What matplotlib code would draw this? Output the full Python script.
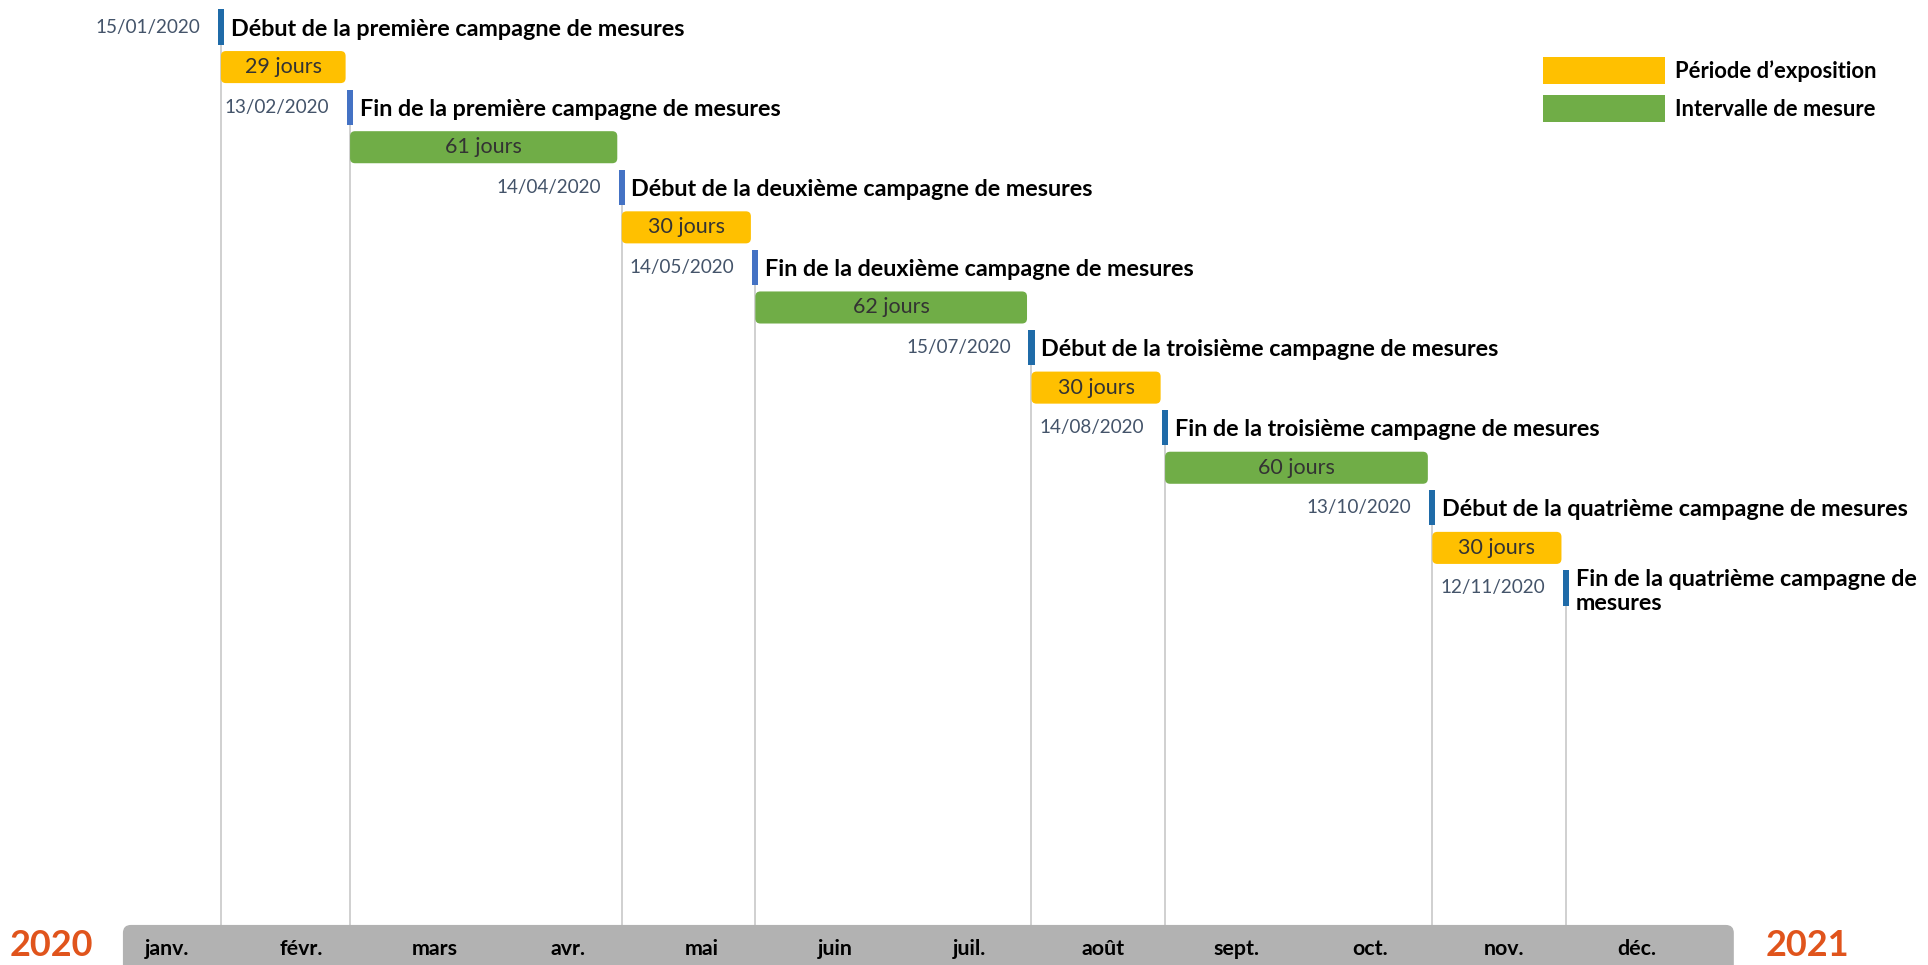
import datetime as dt
import matplotlib
matplotlib.use("Agg")
import matplotlib.pyplot as plt
import matplotlib.dates as mdates
from matplotlib.patches import Patch, FancyBboxPatch

plt.rcParams['font.family'] = ['Lato', 'DejaVu Sans']

# jalons des campagnes de mesures
event_dates = ["2020-01-15", "2020-02-13", "2020-04-14", "2020-05-14",
               "2020-07-15", "2020-08-14", "2020-10-13", "2020-11-12"]
event_labels = ["Début de la première campagne de mesures",
                "Fin de la première campagne de mesures",
                "Début de la deuxième campagne de mesures",
                "Fin de la deuxième campagne de mesures",
                "Début de la troisième campagne de mesures",
                "Fin de la troisième campagne de mesures",
                "Début de la quatrième campagne de mesures",
                "Fin de la quatrième campagne de\nmesures"]
date_labels = ["15/01/2020", "13/02/2020", "14/04/2020", "14/05/2020",
               "15/07/2020", "14/08/2020", "13/10/2020", "12/11/2020"]

# durées entre jalons (jours) et type de période
durations = [29, 61, 30, 62, 30, 60, 30]
kinds = ["expo", "mesure", "expo", "mesure", "expo", "mesure", "expo"]

months = ["janv.", "févr.", "mars", "avr.", "mai", "juin",
          "juil.", "août", "sept.", "oct.", "nov.", "déc."]
years = ["2020", "2021"]

YELLOW = "#FFC000"
GREEN = "#70AD47"
marker_colors = ["#1F6BA8", "#4472C4", "#4472C4", "#4472C4",
                 "#1F6BA8", "#1F6BA8", "#1F6BA8", "#1F6BA8"]

dates = [mdates.date2num(dt.datetime.strptime(d, "%Y-%m-%d")) for d in event_dates]
x0 = mdates.date2num(dt.datetime(2020, 1, 1))

fig = plt.figure(figsize=(19.28, 9.65), dpi=100)
ax = fig.add_axes([0, 0, 1, 1])
ax.set_xlim(x0 - 35.6, x0 + 397.3)
ax.set_ylim(23.41, -0.674)
ax.axis("off")

# coins arrondis (1 jour ~ 4.45 px, 1 ligne ~ 40 px)
ASPECT = 4.454 / 40.07


def round_bars(bars, radius_px):
    for p in bars.patches:
        bb = p.get_bbox()
        fb = FancyBboxPatch((bb.xmin, min(bb.ymin, bb.ymax)), abs(bb.width), abs(bb.height),
                            boxstyle=f"round,pad=0,rounding_size={radius_px / 4.454}",
                            mutation_aspect=ASPECT, facecolor=p.get_facecolor(),
                            edgecolor="none", zorder=p.get_zorder())
        p.remove()
        ax.add_patch(fb)


bar_top = 22.41

# lignes verticales + jalons
for i, (d, lab, dl) in enumerate(zip(dates, event_labels, date_labels)):
    row = 2 * i
    ax.vlines(d, row, bar_top, color="#c8c8c8", lw=1.2, zorder=1)
    ax.barh(row, 1.4, left=d - 0.7, height=0.88, color=marker_colors[i], zorder=3)
    ax.annotate(lab, (d, row), xytext=(7, 0), textcoords="offset points",
                ha="left", va="center_baseline", fontsize=16.8, fontweight="bold",
                color="black")
    ax.annotate(dl, (d, row), xytext=(-15, 0), textcoords="offset points",
                ha="right", va="center", fontsize=13.6, color="#44546A")

# périodes
for i, (dur, k) in enumerate(zip(durations, kinds)):
    row = 2 * i + 1
    c = YELLOW if k == "expo" else GREEN
    bars = ax.barh(row, dur - 1, left=dates[i], height=0.8, color=c, zorder=2)
    round_bars(bars, 5)
    ax.text(dates[i] + (dur - 1) / 2, row, f"{dur} jours", ha="center",
            va="center", fontsize=15.5, color="#333333", zorder=4)

# barre des mois (le bas dépasse du cadre)
mbar = ax.barh(bar_top + 0.7, 361.7, left=x0 - 8, height=1.4, color="#B2B2B2", zorder=2)
round_bars(mbar, 8)
for m, name in enumerate(months):
    ax.text(x0 + 2 + 30 * m, 23.0, name, ha="center", va="center", fontsize=15.4,
            fontweight="bold", color="black", zorder=4)

ax.text(0.0266, 0.02, years[0], transform=ax.transAxes, ha="center", va="center",
        fontsize=26, fontweight="bold", color="#E0541C")
ax.text(0.9375, 0.02, years[1], transform=ax.transAxes, ha="center", va="center",
        fontsize=26, fontweight="bold", color="#E0541C")

handles = [Patch(facecolor=YELLOW), Patch(facecolor=GREEN)]
fig.legend(handles, ["Période d’exposition", "Intervalle de mesure"],
           loc="upper left", bbox_to_anchor=(0.8003, 0.941), frameon=False,
           prop={"weight": "bold", "size": 15.8}, handlelength=5.55, handleheight=1.5,
           labelspacing=0.52, handletextpad=0.45, borderpad=0, borderaxespad=0)

fig.savefig("out.png", dpi=100)
